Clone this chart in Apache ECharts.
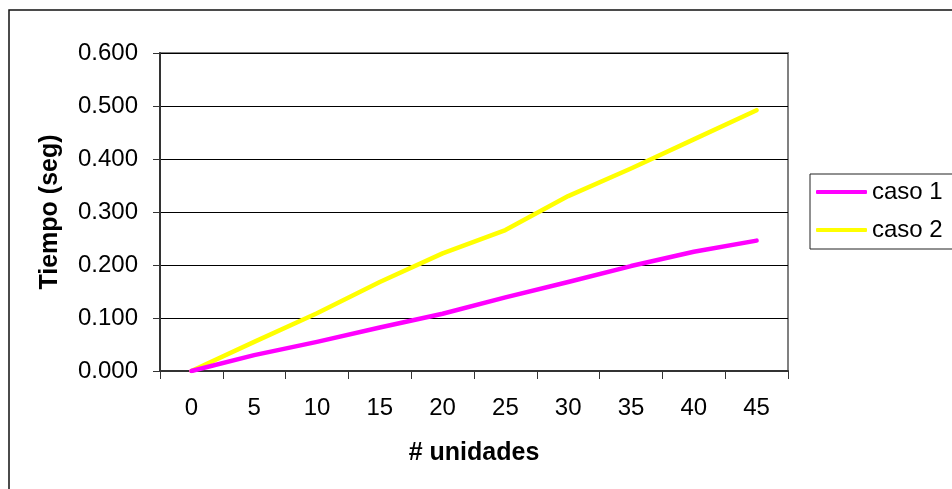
<!DOCTYPE html>
<html>
<head>
<meta charset="utf-8">
<script src="https://cdn.jsdelivr.net/npm/echarts@6/dist/echarts.min.js"></script>
<style>
  html, body { margin: 0; padding: 0; background: #fff; }
  #chart { width: 952px; height: 489px; }
</style>
</head>
<body>
<div id="chart"></div>
<script>
// unidades en el eje x
var unidades = ['0', '5', '10', '15', '20', '25', '30', '35', '40', '45'];
// tiempos (seg)
var caso1 = [0, 0.030, 0.055, 0.082, 0.108, 0.139, 0.168, 0.198, 0.225, 0.246];
var caso2 = [0, 0.055, 0.109, 0.168, 0.222, 0.266, 0.330, 0.382, 0.437, 0.492];

var font = 'Arial, "Liberation Sans", sans-serif';
var myChart = echarts.init(document.getElementById('chart'));

var option = {
  backgroundColor: '#fff',
  animation: false,
  textStyle: { fontFamily: font },
  graphic: [
    {
      type: 'rect',
      shape: { x: 9, y: 10, width: 1100, height: 700 },
      style: { fill: 'none', stroke: '#111', lineWidth: 1.5 },
      silent: true
    }
  ],
  grid: {
    left: 160,
    right: 164,
    top: 53,
    bottom: 118,
    show: true,
    borderColor: '#808080',
    borderWidth: 2,
    containLabel: false
  },
  legend: {
    orient: 'vertical',
    left: 810,
    top: 174,
    icon: 'roundRect',
    itemWidth: 51,
    itemHeight: 4,
    itemGap: 14,
    padding: [6, 30, 7, 6],
    borderColor: '#222',
    borderWidth: 1,
    textStyle: { fontSize: 24, color: '#000', fontFamily: font, lineHeight: 24 },
    data: ['caso 1', 'caso 2']
  },
  xAxis: {
    type: 'category',
    data: unidades,
    boundaryGap: true,
    name: '# unidades',
    nameLocation: 'middle',
    nameGap: 70,
    nameTextStyle: { fontSize: 25, fontWeight: 'bold', color: '#000', fontFamily: font },
    axisLine: { show: true, lineStyle: { color: '#333', width: 2 } },
    axisTick: { show: true, length: 8, interval: 0, lineStyle: { color: '#333', width: 1 } },
    axisLabel: { interval: 0, fontSize: 24, color: '#000', margin: 25, fontFamily: font },
    splitLine: { show: false }
  },
  yAxis: {
    type: 'value',
    min: 0,
    max: 0.6,
    interval: 0.1,
    name: 'Tiempo (seg)',
    nameLocation: 'middle',
    nameGap: 97,
    nameTextStyle: { fontSize: 25, fontWeight: 'bold', color: '#000', fontFamily: font },
    axisLine: { show: true, lineStyle: { color: '#333', width: 2 } },
    axisTick: { show: true, length: 7, lineStyle: { color: '#333', width: 1 } },
    axisLabel: {
      fontSize: 24,
      color: '#000',
      margin: 22,
      fontFamily: font,
      formatter: function (v) { return v.toFixed(3); }
    },
    splitLine: { show: true, lineStyle: { color: '#000', width: 1 } }
  },
  series: [
    {
      name: 'caso 1',
      type: 'line',
      data: caso1,
      symbol: 'none',
      color: '#FF00FF',
      lineStyle: { color: '#FF00FF', width: 4.5, cap: 'round', join: 'round' },
      z: 3
    },
    {
      name: 'caso 2',
      type: 'line',
      data: caso2,
      symbol: 'none',
      color: '#FFFF00',
      lineStyle: { color: '#FFFF00', width: 4.5, cap: 'round', join: 'round' },
      z: 2
    }
  ]
};

myChart.setOption(option);
</script>
</body>
</html>
